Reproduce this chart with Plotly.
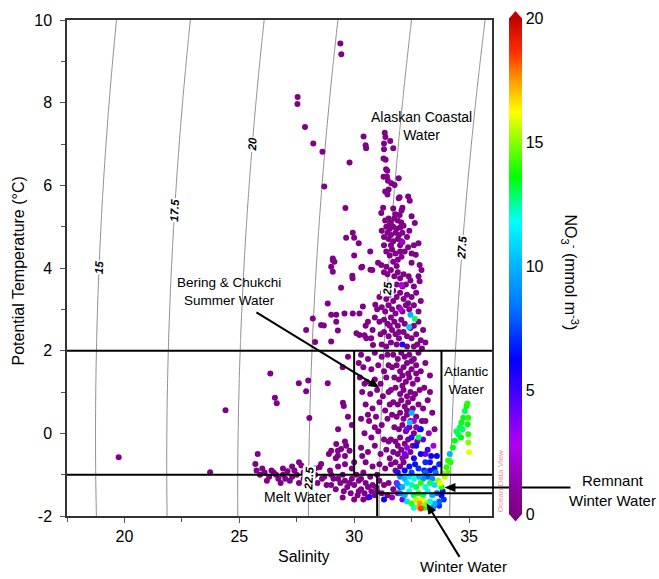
import numpy as np
import plotly.graph_objects as go

# ---------------- data (salinity, potential temperature, NO3-) ----------------
upper_pts = [
    (29.40, 9.43, 0.3), (29.44, 9.17, 0.3), (27.54, 8.14, 0.3), (27.53, 7.97, 0.3),
    (27.86, 7.41, 0.3), (28.22, 7.01, 0.3), (28.62, 6.81, 0.3), (29.80, 6.55, 0.3),
    (28.70, 5.97, 0.3), (30.41, 7.18, 0.3), (30.50, 6.97, 0.3), (30.52, 6.90, 0.3),
    (31.33, 7.27, 0.3), (31.36, 7.17, 0.3), (31.57, 7.07, 0.3), (31.30, 7.01, 0.3),
    (31.30, 6.87, 0.3), (31.70, 6.90, 0.3), (31.28, 6.65, 0.3), (31.37, 6.62, 0.3),
    (31.39, 6.39, 0.3), (31.44, 6.35, 0.3), (31.28, 6.21, 0.3), (31.43, 6.21, 0.3),
    (31.47, 6.11, 0.3), (31.62, 6.05, 0.3), (31.76, 6.01, 0.3), (31.94, 6.17, 0.3),
    (31.94, 5.69, 0.3), (32.35, 5.73, 0.3), (32.42, 5.63, 0.3), (31.98, 5.71, 0.3),
    (29.62, 5.45, 0.3), (31.26, 5.46, 0.3), (31.70, 5.44, 0.3), (31.18, 5.33, 0.3),
    (32.10, 5.46, 0.3), (32.06, 5.39, 0.3), (32.50, 5.25, 0.3), (31.98, 5.28, 0.3),
    (31.35, 5.85, 0.3), (31.45, 5.78, 0.3), (31.50, 5.90, 0.3),
]

column_pts = [
    (31.35, 5.15, 0.3), (31.50, 5.20, 0.3), (31.60, 5.10, 0.3), (31.75, 5.20, 0.3),
    (31.90, 5.15, 0.3), (32.05, 5.10, 0.3), (31.40, 5.00, 0.3), (31.55, 4.95, 0.3),
    (31.70, 5.00, 0.3), (31.85, 4.95, 0.3), (32.00, 4.98, 0.3), (32.15, 5.02, 0.3),
    (31.45, 4.85, 0.3), (31.60, 4.80, 0.3), (31.80, 4.85, 0.3), (31.95, 4.80, 0.3),
    (32.10, 4.85, 0.3), (31.50, 4.70, 0.3), (31.70, 4.65, 0.3), (31.90, 4.70, 0.3),
    (32.05, 4.65, 0.3), (32.64, 5.09, 0.3), (32.40, 4.90, 0.3), (32.30, 4.75, 0.3),
    (31.20, 4.90, 0.3), (31.30, 4.75, 0.3), (31.04, 4.13, 0.3), (31.18, 4.07, 0.3),
    (31.40, 4.03, 0.3), (32.06, 4.27, 0.3), (32.50, 4.13, 0.3), (32.85, 4.07, 0.3),
    (32.93, 3.95, 0.3), (32.68, 4.32, 0.3), (31.40, 4.40, 0.3), (31.55, 4.30, 0.3),
    (31.65, 4.45, 0.3), (31.80, 4.35, 0.3), (31.90, 4.20, 0.3), (31.70, 4.15, 0.3),
    (31.85, 4.05, 0.3), (32.20, 4.40, 0.3), (32.35, 4.50, 0.3), (31.60, 4.55, 0.3),
    (32.00, 4.55, 0.3), (32.60, 4.55, 0.3), (32.80, 4.60, 0.3), (32.37, 3.80, 0.3),
    (32.45, 3.70, 0.3), (32.80, 3.80, 0.3), (32.85, 3.68, 0.3), (31.90, 3.90, 0.3),
    (32.00, 3.75, 0.3), (31.75, 3.80, 0.3), (31.60, 3.95, 0.3), (31.45, 3.85, 0.3),
    (31.30, 3.90, 0.3), (32.15, 3.85, 0.3), (32.25, 3.60, 0.3), (31.85, 3.60, 0.3),
    (32.06, 3.59, 2.5), (32.10, 4.62, 2.0),
    (31.10, 3.30, 0.3), (31.25, 3.40, 0.3), (31.40, 3.25, 0.3), (31.55, 3.35, 0.3),
    (31.70, 3.45, 0.3), (31.85, 3.30, 0.3), (32.00, 3.40, 0.3), (32.15, 3.25, 0.3),
    (32.30, 3.35, 0.3), (32.50, 3.30, 0.3), (32.70, 3.40, 0.3), (32.90, 3.20, 0.3),
    (31.00, 3.00, 0.3), (31.20, 3.05, 0.3), (31.35, 2.95, 0.3), (31.50, 3.10, 0.3),
    (31.65, 3.00, 0.3), (31.80, 2.90, 0.3), (31.95, 3.05, 0.3), (32.10, 2.95, 0.3),
    (32.25, 3.10, 0.3), (32.40, 3.00, 0.3), (32.60, 3.10, 0.3), (32.80, 2.95, 0.3),
    (31.10, 2.70, 0.3), (31.30, 2.75, 0.3), (31.45, 2.65, 0.3), (31.60, 2.80, 0.3),
    (31.75, 2.70, 0.3), (31.90, 2.60, 0.3), (32.05, 2.75, 0.3), (32.20, 2.65, 0.3),
    (32.60, 2.60, 0.3), (32.80, 2.70, 0.3), (33.00, 2.50, 0.3), (31.15, 2.40, 0.3),
    (31.30, 2.45, 0.3), (31.50, 2.35, 0.3), (31.65, 2.50, 0.3), (31.80, 2.40, 0.3),
    (31.95, 2.30, 0.3), (32.15, 2.45, 0.3), (32.30, 2.35, 0.3), (32.50, 2.30, 0.3),
    (32.70, 2.40, 0.3), (32.90, 2.25, 0.3), (33.10, 2.20, 0.3), (31.20, 2.15, 0.3),
    (31.40, 2.10, 0.3), (31.60, 2.20, 0.3), (31.85, 2.15, 0.3), (32.30, 2.10, 0.3),
    (32.60, 2.10, 0.3), (32.95, 2.05, 0.3),
    (31.55, 3.60, 0.3), (31.70, 3.20, 0.3), (32.10, 3.55, 0.3), (32.35, 3.15, 0.3),
    (32.60, 3.55, 0.3), (31.35, 3.50, 0.3), (31.95, 2.45, 0.3), (32.45, 2.55, 0.3),
    (32.75, 2.15, 0.3), (31.55, 2.60, 0.3), (32.00, 4.40, 0.3), (32.50, 4.35, 0.3),
    (31.30, 4.55, 0.3), (31.55, 5.05, 0.3), (31.80, 5.30, 0.3),
    (32.45, 2.87, 10.0), (32.64, 2.77, 13.0), (32.39, 2.57, 10.5), (32.10, 2.15, 5.5),
    (32.02, 3.00, 2.5),
]

scatter_pts = [
    (29.65, 4.73, 0.3), (30.00, 4.73, 0.3), (29.94, 4.85, 0.3), (29.07, 4.19, 0.3),
    (29.00, 4.03, 0.3), (29.92, 3.81, 0.3), (29.43, 3.52, 0.3), (30.31, 4.01, 0.3),
    (30.71, 3.96, 0.3), (30.35, 4.03, 0.3), (30.79, 3.95, 0.3), (29.93, 3.75, 0.3),
    (29.07, 4.23, 0.3), (29.14, 4.15, 0.3), (29.07, 3.91, 0.3), (30.00, 4.30, 0.3),
    (30.20, 4.60, 0.3), (30.70, 4.40, 0.3), (30.38, 3.07, 0.3), (30.92, 3.11, 0.3),
    (29.22, 2.87, 0.3), (29.58, 2.90, 0.3), (29.94, 2.90, 0.3), (30.23, 2.90, 0.3),
    (30.10, 2.42, 0.3), (30.23, 2.38, 0.3), (30.45, 2.37, 0.3), (30.53, 2.30, 0.3),
    (30.80, 2.50, 0.3), (30.74, 2.30, 0.3), (30.82, 2.14, 0.3), (29.00, 2.87, 0.3),
    (29.22, 2.70, 0.3), (29.00, 2.22, 0.3), (28.85, 3.14, 0.3), (28.20, 2.78, 0.3),
    (28.56, 2.62, 0.3), (28.68, 2.61, 0.3), (27.91, 2.50, 0.3), (29.29, 2.49, 0.3),
    (28.30, 2.21, 0.3), (30.60, 2.70, 0.3), (30.90, 2.80, 0.3), (30.50, 2.60, 0.3),
    (26.35, 1.45, 0.3), (27.59, 1.21, 0.3), (28.00, 1.28, 0.3), (27.91, 1.02, 0.3),
    (28.85, 1.21, 0.3), (26.55, 0.86, 0.3), (26.63, 0.73, 0.3), (29.51, 0.74, 0.3),
    (29.55, 0.66, 0.3), (29.73, 0.40, 0.3), (28.05, 0.37, 0.3), (24.40, 0.56, 0.3),
    (19.75, -0.58, 0.3), (29.73, 1.85, 0.3), (29.50, 1.60, 0.3), (29.30, 0.10, 0.3),
    (29.60, -0.20, 0.3), (29.22, -0.26, 0.3), (29.29, -0.42, 0.3), (29.90, 0.20, 0.3),
]

summer_box_pts = [
    (30.30, 1.90, 0.3), (30.60, 1.80, 0.3), (30.90, 1.95, 0.3), (31.20, 1.85, 0.3),
    (31.45, 1.90, 0.3), (30.40, 1.60, 0.3), (30.75, 1.55, 0.3), (31.05, 1.65, 0.3),
    (31.30, 1.50, 0.3), (30.25, 1.35, 0.3), (30.55, 1.25, 0.3), (30.90, 1.30, 0.3),
    (31.15, 1.20, 0.3), (31.40, 1.35, 0.3), (30.35, 1.00, 0.3), (30.70, 0.95, 0.3),
    (31.00, 1.05, 0.3), (31.25, 0.90, 0.3), (31.50, 1.00, 0.3), (30.50, 0.70, 0.3),
    (30.80, 0.60, 0.3), (31.10, 0.75, 0.3), (31.35, 0.55, 0.3), (30.30, 0.35, 0.3),
    (30.65, 0.30, 0.3), (30.95, 0.40, 0.3), (31.20, 0.20, 0.3), (31.45, 0.35, 0.3),
    (30.45, 0.00, 0.3), (30.75, -0.10, 0.3), (31.05, 0.05, 0.3), (31.30, -0.15, 0.3),
    (30.30, -0.35, 0.3), (30.60, -0.45, 0.3), (30.90, -0.30, 0.3), (31.15, -0.50, 0.3),
    (31.40, -0.40, 0.3), (30.50, -0.70, 0.3), (30.80, -0.80, 0.3), (31.10, -0.75, 0.3),
    (31.35, -0.85, 0.3),
    (31.70, 1.90, 0.3), (31.90, 1.80, 0.3), (32.05, 1.95, 0.3), (32.20, 1.85, 0.3),
    (32.40, 1.90, 0.3), (32.60, 1.80, 0.3), (32.80, 1.95, 0.3), (31.65, 1.60, 0.3),
    (31.85, 1.65, 0.3), (32.00, 1.50, 0.3), (32.15, 1.60, 0.3), (32.30, 1.70, 0.3),
    (32.50, 1.55, 0.3), (32.70, 1.65, 0.3), (32.90, 1.50, 0.3), (31.75, 1.35, 0.3),
    (31.95, 1.30, 0.3), (32.10, 1.40, 0.3), (32.25, 1.25, 0.3), (32.40, 1.35, 0.3),
    (32.55, 1.20, 0.3), (32.75, 1.30, 0.3), (31.60, 1.05, 0.3), (31.80, 1.10, 0.3),
    (32.00, 0.95, 0.3), (32.15, 1.05, 0.3), (32.30, 0.90, 0.3), (32.45, 1.00, 0.3),
    (32.65, 0.95, 0.3), (32.85, 1.05, 0.3), (31.70, 0.75, 0.3), (31.90, 0.70, 0.3),
    (32.05, 0.80, 0.3), (32.20, 0.65, 0.3), (32.35, 0.75, 0.3), (32.55, 0.60, 0.3),
    (32.80, 0.70, 0.3), (31.65, 0.45, 0.3), (31.85, 0.40, 0.3), (32.00, 0.50, 0.3),
    (32.15, 0.35, 0.3), (32.30, 0.45, 0.3), (32.45, 0.30, 0.3), (32.70, 0.40, 0.3),
    (32.95, 0.30, 0.3), (31.75, 0.15, 0.3), (31.95, 0.10, 0.3), (32.10, 0.20, 0.3),
    (32.25, 0.05, 0.3), (32.40, 0.15, 0.3), (32.60, 0.00, 0.3), (32.85, 0.10, 0.3),
    (31.60, -0.15, 0.3), (31.80, -0.20, 0.3), (32.00, -0.10, 0.3), (32.20, -0.25, 0.3),
    (32.35, -0.15, 0.3), (32.55, -0.30, 0.3), (32.75, -0.20, 0.3), (31.70, -0.45, 0.3),
    (31.90, -0.50, 0.3), (32.05, -0.40, 0.3), (32.25, -0.55, 0.3), (32.45, -0.45, 0.3),
    (31.60, -0.75, 0.3), (31.80, -0.70, 0.3), (32.00, -0.80, 0.3), (32.15, -0.70, 0.3),
    (30.20, 1.70, 0.3), (30.45, 1.20, 0.3), (30.60, 0.45, 0.3), (30.35, -0.55, 0.3),
    (30.90, 0.15, 0.3), (31.55, 0.70, 0.3), (31.50, -0.20, 0.3), (31.55, -0.60, 0.3),
    (31.50, 1.65, 0.3), (32.50, 1.75, 0.3), (32.35, 1.45, 0.3), (32.10, 1.15, 0.3),
    (32.30, 0.55, 0.3), (32.55, 0.85, 0.3), (32.70, 0.15, 1.0), (31.90, -0.30, 0.3),
    (32.10, -0.60, 1.0), (31.80, -0.90, 0.3), (32.70, 1.45, 0.3), (33.00, 0.60, 0.3),
    (33.30, 1.00, 0.3), (33.50, 0.10, 0.3),
    (33.10, 1.70, 0.3), (33.30, 1.40, 0.3), (33.05, 1.10, 0.3), (33.20, 0.80, 0.3),
    (33.40, 0.50, 0.3), (33.10, 0.30, 0.3), (33.25, 0.00, 1.5), (33.45, -0.30, 3.0),
    (33.10, -0.50, 4.0), (33.30, -0.70, 5.5), (33.50, -0.85, 6.0), (33.05, -0.90, 6.5),
    (32.30, 0.10, 4.0), (32.50, -0.10, 5.0), (32.70, -0.30, 6.0), (32.90, -0.50, 6.0),
    (33.10, -0.70, 7.0), (32.60, -0.60, 5.5), (32.40, -0.80, 6.5), (32.80, -0.85, 7.0),
    (33.20, -0.40, 5.0), (32.20, -0.50, 4.0), (33.00, -0.15, 4.5), (32.50, 0.50, 10.0),
    (32.42, 0.26, 10.5), (32.80, -0.10, 13.0), (32.60, 0.30, 3.0), (32.90, 0.10, 6.0),
    (33.30, -0.90, 6.5), (32.20, -0.90, 6.0), (31.90, -0.95, 5.5), (32.50, -0.95, 7.5),
    (33.10, -0.95, 8.0), (32.30, -0.35, 3.5), (33.35, -0.55, 6.0), (32.65, -0.75, 6.5),
]

melt_pts = [
    (25.80, -0.50, 0.3), (25.70, -0.74, 0.3), (25.75, -0.90, 0.3), (25.90, -1.00, 0.3),
    (26.10, -0.95, 0.3), (26.30, -1.05, 0.3), (26.50, -0.95, 0.3), (26.70, -1.10, 0.3),
    (26.90, -1.00, 0.3), (27.10, -0.92, 0.3), (27.30, -1.05, 0.3), (27.50, -1.00, 0.3),
    (27.60, -0.70, 0.3), (27.70, -0.78, 0.3), (27.80, -1.10, 0.3), (27.95, -0.95, 0.3),
    (28.10, -1.15, 0.3), (28.30, -1.00, 0.3), (28.56, -0.74, 0.3), (28.49, -0.82, 0.3),
    (28.70, -1.05, 0.3), (28.90, -0.50, 0.3), (29.00, -0.42, 0.3), (28.95, -0.90, 0.3),
    (29.10, -1.10, 0.3), (29.29, -0.54, 0.3), (29.43, -0.38, 0.3), (29.65, -0.30, 0.3),
    (29.80, -0.42, 0.3), (29.30, -0.80, 0.3), (29.60, -0.75, 0.3), (29.90, -0.85, 0.3),
    (26.20, -1.15, 0.3), (26.80, -1.20, 0.3), (27.20, -1.15, 0.3), (27.60, -1.20, 0.3),
    (28.00, -1.25, 0.3), (28.40, -1.20, 0.3), (28.80, -1.25, 0.3), (23.73, -0.94, 0.3),
    (29.00, -1.25, 0.3), (29.20, -1.35, 0.3), (29.40, -1.20, 0.3), (29.55, -1.40, 0.3),
    (29.70, -1.30, 0.3), (29.85, -1.45, 0.3), (30.00, -1.25, 0.3), (30.15, -1.50, 0.3),
    (30.30, -1.35, 0.3), (30.45, -1.45, 0.3), (30.60, -1.55, 0.3), (30.75, -1.40, 0.3),
    (30.90, -1.50, 0.3), (29.30, -1.10, 0.3), (29.60, -1.15, 0.3), (29.90, -1.10, 0.3),
    (30.20, -1.15, 0.3), (30.50, -1.20, 0.3), (30.80, -1.25, 0.3), (30.10, -1.00, 0.3),
    (30.40, -0.95, 0.3), (30.70, -1.05, 0.3), (31.00, -1.00, 0.3), (30.95, -1.30, 0.3),
    (31.10, -1.15, 0.3), (31.30, -1.25, 0.3), (31.50, -1.20, 0.3), (31.70, -1.35, 0.3),
    (31.20, -1.45, 0.3), (31.45, -1.50, 0.3), (31.65, -1.55, 1.5), (31.90, -1.45, 3.0),
    (32.10, -1.60, 4.0), (31.85, -1.20, 3.0), (32.00, -1.30, 4.5), (31.30, -1.60, 6.0),
    (30.67, -1.54, 5.5),
    (26.00, -0.85, 0.3), (26.40, -0.90, 0.3), (26.60, -1.00, 0.3), (27.00, -1.10, 0.3),
    (27.40, -0.90, 0.3), (27.80, -0.95, 0.3), (28.20, -1.05, 0.3), (28.60, -1.10, 0.3),
    (29.00, -1.00, 0.3), (29.50, -1.00, 0.3), (29.80, -1.20, 0.3), (30.30, -1.10, 0.3),
    (30.60, -1.30, 0.3), (30.20, -1.40, 0.3), (29.50, -1.55, 0.3), (30.00, -1.60, 0.3),
    (30.40, -1.60, 0.3), (31.00, -1.40, 0.3), (29.20, -0.60, 0.3), (28.30, -0.85, 0.3),
    (27.30, -0.80, 0.3), (26.90, -0.85, 0.3), (29.60, -0.55, 0.3), (30.00, -0.70, 0.3),
]

winter_pts = [
    (32.00, -1.05, 9.0), (32.20, -1.10, 10.0), (32.40, -1.05, 11.0), (32.60, -1.10, 12.0),
    (32.80, -1.05, 10.0), (33.00, -1.10, 9.0), (33.20, -1.05, 8.0), (33.40, -1.10, 9.0),
    (31.90, -1.25, 8.0), (32.10, -1.30, 10.0), (32.30, -1.20, 11.0), (32.50, -1.25, 12.5),
    (32.70, -1.30, 13.0), (32.90, -1.20, 14.0), (33.10, -1.30, 12.0), (33.30, -1.20, 13.0),
    (33.50, -1.25, 11.0), (33.65, -1.15, 15.0), (33.75, -1.20, 16.0), (33.80, -1.30, 14.0),
    (32.00, -1.45, 8.5), (32.20, -1.50, 10.0), (32.40, -1.40, 12.0), (32.60, -1.50, 13.0),
    (32.80, -1.45, 14.0), (33.00, -1.50, 13.0), (33.20, -1.40, 12.0), (33.40, -1.50, 10.0),
    (33.60, -1.45, 8.0), (33.80, -1.50, 6.0), (32.30, -1.65, 11.0), (32.50, -1.70, 14.0),
    (32.70, -1.60, 15.5), (32.85, -1.70, 17.5), (32.95, -1.62, 16.0), (33.10, -1.70, 15.0),
    (33.30, -1.65, 12.0), (33.50, -1.70, 10.0), (33.70, -1.65, 8.0), (32.60, -1.80, 12.0),
    (32.80, -1.78, 17.0), (32.90, -1.82, 18.5), (33.05, -1.80, 14.0), (33.25, -1.80, 11.0),
    (33.45, -1.78, 9.0), (33.70, -1.75, 7.0), (33.85, -1.40, 6.5), (33.90, -1.60, 7.0),
    (33.55, -0.95, 8.5), (33.70, -0.75, 7.0), (33.60, -0.55, 6.0),
]

atlantic_pts = [
    (33.88, -0.98, 15.0), (34.02, -0.82, 14.0), (34.09, -0.66, 14.0), (34.16, -0.50, 10.0),
    (34.30, -0.34, 13.5), (34.38, -0.18, 13.5), (34.53, -0.02, 13.0), (34.60, 0.14, 13.0),
    (34.67, 0.26, 13.5), (34.75, 0.38, 13.5), (34.82, 0.54, 13.0), (34.89, 0.66, 13.5),
    (34.93, 0.72, 14.0), (34.97, 0.38, 14.0), (34.94, 0.22, 13.5), (34.97, -0.02, 14.0),
    (34.97, -0.22, 15.0), (35.00, -0.46, 16.0), (34.72, 0.10, 13.0), (34.65, -0.10, 13.5),
    (34.45, 0.05, 13.0), (34.20, -0.70, 14.0), (33.95, -1.05, 15.5), (34.10, -0.95, 14.5),
]

# water-mass boundaries (salinity, temperature)
box_lines = [
    ((17.5, 2.0), (36.0, 2.0)),
    ((17.5, -1.0), (36.0, -1.0)),
    ((30.0, -1.0), (30.0, 2.0)),
    ((33.8, -1.0), (33.8, 2.0)),
    ((31.0, -2.0), (31.0, -1.0)),
    ((31.0, -1.45), (36.0, -1.45)),
]

# arrow heads (salinity, temperature) and tail offsets in pixels
arrow_heads = [(31.1, 1.1), (33.93, -1.31), (33.15, -1.69)]
arrow_tail_offsets = [(-123, -76), (126, 0), (33, 54)]

isopycnal_levels = [15, 17.5, 20, 22.5, 25, 27.5]
isopycnal_label_temps = [4.0, 5.4, 7.0, -1.1, 3.5, 4.5]

x_ticks = [20, 25, 30, 35]
y_ticks = [-2, 0, 2, 4, 6, 8, 10]
cb_ticks = [0, 5, 10, 15, 20]

# ---------------- helpers ----------------
FONT = "Liberation Sans, Arial, sans-serif"
W, H = 659, 579
ML, MT, PW, PH = 67, 17, 425, 499
MR = W - ML - PW
MB = H - MT - PH
XR = (17.5, 36.0)
YR = (-2.0, 10.0)


def px(xp):
    return (xp - ML) / PW


def py(yp):
    return (MT + PH - yp) / PH


def d2p(s, t):
    return (ML + (s - XR[0]) / (XR[1] - XR[0]) * PW,
            MT + PH - (t - YR[0]) / (YR[1] - YR[0]) * PH)


def sigma0(S, T):
    rw = (999.842594 + 6.793952e-2 * T - 9.095290e-3 * T**2 + 1.001685e-4 * T**3
          - 1.120083e-6 * T**4 + 6.536332e-9 * T**5)
    A = 8.24493e-1 - 4.0899e-3 * T + 7.6438e-5 * T**2 - 8.2467e-7 * T**3 + 5.3875e-9 * T**4
    B = -5.72466e-3 + 1.0227e-4 * T - 1.6546e-6 * T**2
    C = 4.8314e-4
    return rw + A * S + B * S**1.5 + C * S**2 - 1000.0


all_pts = upper_pts + column_pts + scatter_pts + summer_box_pts + melt_pts + winter_pts + atlantic_pts
all_pts = sorted(all_pts, key=lambda p: p[2])
sal = [p[0] for p in all_pts]
tem = [p[1] for p in all_pts]
no3 = [p[2] for p in all_pts]

colorscale = [
    [0.0, "#7d007d"], [0.05, "#8a00a0"], [0.14, "#b000f0"], [0.23, "#5000ff"],
    [0.31, "#0000ff"], [0.42, "#0078ff"], [0.50, "#00b4ff"], [0.59, "#00ffff"],
    [0.68, "#00ff00"], [0.81, "#ffff00"], [0.875, "#ff9a00"], [0.93, "#ff3000"],
    [1.0, "#c00000"],
]

fig = go.Figure()

# isopycnals
Sg = np.linspace(16.5, 37.5, 421)
Tg = np.linspace(-2.5, 10.5, 131)
SS, TT = np.meshgrid(Sg, Tg)
fig.add_trace(go.Contour(
    x=Sg, y=Tg, z=sigma0(SS, TT),
    contours=dict(start=15, end=27.5, size=2.5, coloring="lines", showlabels=False),
    colorscale=[[0, "#8f8f8f"], [1, "#8f8f8f"]], showscale=False,
    line=dict(width=1), hoverinfo="skip",
))

fig.add_trace(go.Scatter(
    x=sal, y=tem, mode="markers",
    marker=dict(
        size=6, color=no3, colorscale=colorscale, cmin=0, cmax=20,
        line=dict(width=0),
        colorbar=dict(
            thickness=13, thicknessmode="pixels", len=1.0, lenmode="fraction",
            x=px(509), xanchor="left", xpad=0, y=py(264.5), yanchor="middle", ypad=0,
            outlinewidth=0, tickvals=cb_ticks, ticks="",
            tickfont=dict(family=FONT, size=16, color="black"),
        ),
    ),
    hoverinfo="skip", showlegend=False,
))

shapes = []
for (x0, y0), (x1, y1) in box_lines:
    shapes.append(dict(type="line", xref="x", yref="y", x0=x0, y0=y0, x1=x1, y1=y1,
                       line=dict(color="black", width=2)))
# colorbar end triangles
shapes.append(dict(type="path", xref="paper", yref="paper",
                   path=f"M {px(509)} {py(15.5)} L {px(522)} {py(15.5)} L {px(515.5)} {py(8)} Z",
                   fillcolor="#c00000", line=dict(width=0)))
shapes.append(dict(type="path", xref="paper", yref="paper",
                   path=f"M {px(509)} {py(514)} L {px(522)} {py(514)} L {px(515.5)} {py(521.5)} Z",
                   fillcolor="#7d007d", line=dict(width=0)))

# arrows drawn as line + filled head
HEAD_L, HEAD_W = 11.0, 4.5
for (hs, ht), (ox, oy) in zip(arrow_heads, arrow_tail_offsets):
    hx, hy = d2p(hs, ht)
    tx, ty = hx + ox, hy + oy
    ux, uy = (hx - tx), (hy - ty)
    n = (ux**2 + uy**2) ** 0.5
    ux, uy = ux / n, uy / n
    bx, by = hx - ux * HEAD_L, hy - uy * HEAD_L
    c1 = (bx - uy * HEAD_W, by + ux * HEAD_W)
    c2 = (bx + uy * HEAD_W, by - ux * HEAD_W)
    shapes.append(dict(type="line", xref="paper", yref="paper",
                       x0=px(tx), y0=py(ty), x1=px(bx + ux * 2), y1=py(by + uy * 2),
                       line=dict(color="black", width=2)))
    shapes.append(dict(type="path", xref="paper", yref="paper",
                       path=(f"M {px(hx)} {py(hy)} L {px(c1[0])} {py(c1[1])} "
                             f"L {px(c2[0])} {py(c2[1])} Z"),
                       fillcolor="black", line=dict(width=0)))

annotations = []
# isopycnal labels
Sfine = np.linspace(15, 38, 4601)
for lev, tl in zip(isopycnal_levels, isopycnal_label_temps):
    s_at = float(np.interp(lev, sigma0(Sfine, tl), Sfine))
    s_lo = float(np.interp(lev, sigma0(Sfine, -2.0), Sfine))
    s_hi = float(np.interp(lev, sigma0(Sfine, 10.0), Sfine))
    dx = (s_hi - s_lo) / (XR[1] - XR[0]) * PW
    ang = float(np.degrees(np.arctan2(-PH, dx)))
    annotations.append(dict(
        x=s_at, y=tl, xref="x", yref="y", text=f"<b><i>{lev:g}</i></b>",
        showarrow=False, textangle=ang, bgcolor="white", borderpad=0,
        xanchor="center", yanchor="middle",
        font=dict(family=FONT, size=11.5, color="black"),
    ))


def label(text, x, y, size=14, **kw):
    d = dict(x=px(x), y=py(y), xref="paper", yref="paper", text=text, showarrow=False,
             xanchor="center", yanchor="middle",
             font=dict(family=FONT, size=size, color="black"))
    d.update(kw)
    annotations.append(d)


label("Alaskan Coastal<br>Water", 421, 124, 14)
label("Bering & Chukchi<br>Summer Water", 229, 290, 13.5)
label("Atlantic<br>Water", 466, 380, 13.5)
label("Melt Water", 297, 497, 14)
label("Remnant<br>Winter Water", 612, 490, 15)
label("Winter Water", 463, 567, 15)
label("Potential Temperature (°C)", 18, 270, 16, textangle=-90)
label("Salinity", 304, 557, 16)
label("NO<sub>3</sub><sup>-</sup> (mmol m<sup>-3</sup>)", 570, 271, 16, textangle=90)
label("Ocean Data View", 500, 481, 8, textangle=-90)
annotations[-1]["font"]["color"] = "#f28a9a"

axis_common = dict(
    showgrid=False, zeroline=False, showline=True, linecolor="#333333", linewidth=1.5,
    mirror=True, ticks="outside", ticklen=5, tickcolor="#555555", tickwidth=1,
    tickfont=dict(family=FONT, size=16, color="black"),
)

fig.update_layout(
    width=W, height=H, margin=dict(l=ML, r=MR, t=MT, b=MB),
    paper_bgcolor="white", plot_bgcolor="white",
    xaxis=dict(range=list(XR), tickmode="array", tickvals=x_ticks,
               ticktext=[str(v) for v in x_ticks],
               minor=dict(tickvals=[17.5, 22.5, 27.5, 32.5], ticks="outside", ticklen=4,
                          tickcolor="#555555"),
               ticklabelstandoff=0, **axis_common),
    yaxis=dict(range=list(YR), tickmode="array", tickvals=y_ticks,
               ticktext=[str(v) for v in y_ticks],
               minor=dict(tickvals=[-1, 1, 3, 5, 7, 9], ticks="outside", ticklen=4,
                          tickcolor="#555555"),
               ticklabelstandoff=5, **axis_common),
    shapes=shapes, annotations=annotations, showlegend=False,
    font=dict(family=FONT),
)

fig.write_html("out.html")
